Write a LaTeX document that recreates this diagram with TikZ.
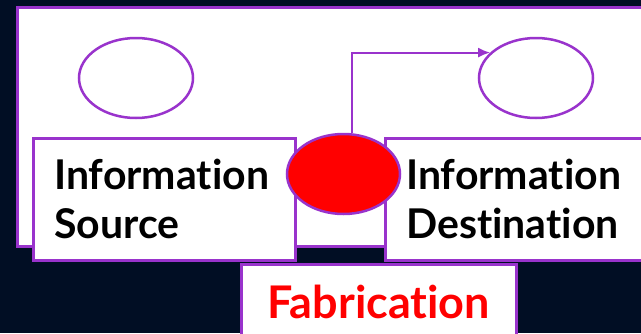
\documentclass[tikz,border=0pt]{standalone}
\usepackage{fontspec}
\setmainfont{Lato}[Ligatures=NoCommon]
\usetikzlibrary{arrows.meta,shapes.geometric,positioning}
\definecolor{frame}{RGB}{153,51,204}
\definecolor{night}{RGB}{1,14,36}

\begin{document}
\begin{tikzpicture}
    [x=1pt,y=-1pt,
    party/.style={ellipse,draw=frame,fill=white,line width=2.5pt,
    inner sep=0pt,minimum width=114pt,minimum height=80pt},
    role/.style={rectangle,draw=frame,fill=white,line width=2.5pt,
    anchor=north west,inner sep=0pt,inner xsep=21pt,minimum height=122pt,
    align=left,font=\fontsize{41}{49}\selectfont\bfseries}]
    \fill[night] (0,0) rectangle (641,333);
    \useasboundingbox (0,0) rectangle (641,333);
    \node (channel) [rectangle,draw=frame,fill=white,line width=2.5pt,
    anchor=north west,minimum width=700pt,minimum height=239pt] at (16,6) {};
    \node (source) [party] at (136,78) {};
    \node (destination) [party] at (536,78) {};
    \node (source box) [role,text width=220pt] at (32,137) {Information\\Source};
    \node (destination box) [role,text width=300pt] at (384,137) {Information\\Destination};
    \node (fabrication) [rectangle,draw=frame,fill=white,line width=2.5pt,
    anchor=north west,inner sep=0pt,minimum width=275pt,minimum height=76pt,
    text height=32pt,text depth=0pt,text=red,
    font=\fontsize{45}{54}\selectfont\bfseries] at (240,263) {Fabrication};
    \node (intruder) [party,fill=red,minimum width=113pt] at (343.5,174) {};
    \draw[frame,line width=2pt,-{Latex[length=12pt,width=10pt]}]
    (intruder.78) |- (destination.151);
\end{tikzpicture}
\end{document}
